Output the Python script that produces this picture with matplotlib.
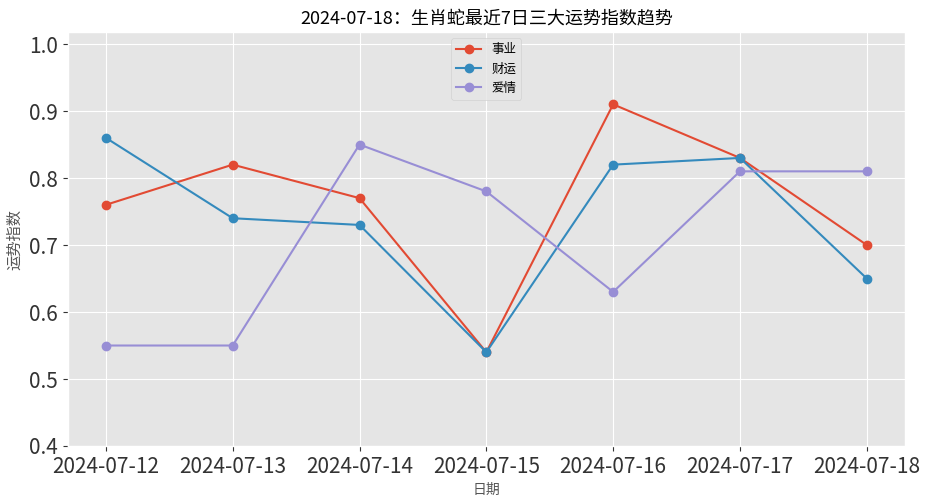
import matplotlib
matplotlib.use("Agg")
import matplotlib.pyplot as plt

dates = ["2024-07-12", "2024-07-13", "2024-07-14", "2024-07-15",
         "2024-07-16", "2024-07-17", "2024-07-18"]
career = [0.76, 0.82, 0.77, 0.54, 0.91, 0.83, 0.70]
wealth = [0.86, 0.74, 0.73, 0.54, 0.82, 0.83, 0.65]
love = [0.55, 0.55, 0.85, 0.78, 0.63, 0.81, 0.81]

plt.style.use("ggplot")
plt.rcParams['font.family'] = ['Noto Sans CJK SC', 'DejaVu Sans']
plt.rcParams['axes.unicode_minus'] = False

fig, ax = plt.subplots(figsize=(9.29, 5), dpi=100)
fig.subplots_adjust(left=0.073, right=0.974, top=0.936, bottom=0.108)

ax.plot(dates, career, marker='o', label='事业')
ax.plot(dates, wealth, marker='o', label='财运')
ax.plot(dates, love, marker='o', label='爱情')

ax.set_ylim(0.4, 1.018)
ax.set_title("2024-07-18：生肖蛇最近7日三大运势指数趋势", fontsize=13, color='black')
ax.set_xlabel("日期", fontsize=10)
ax.set_ylabel("运势指数", fontsize=11)
ax.tick_params(axis='both', labelsize=15, colors='#333333')
ax.legend(loc='upper center', fontsize=9)

fig.savefig("out.png", dpi=100)
